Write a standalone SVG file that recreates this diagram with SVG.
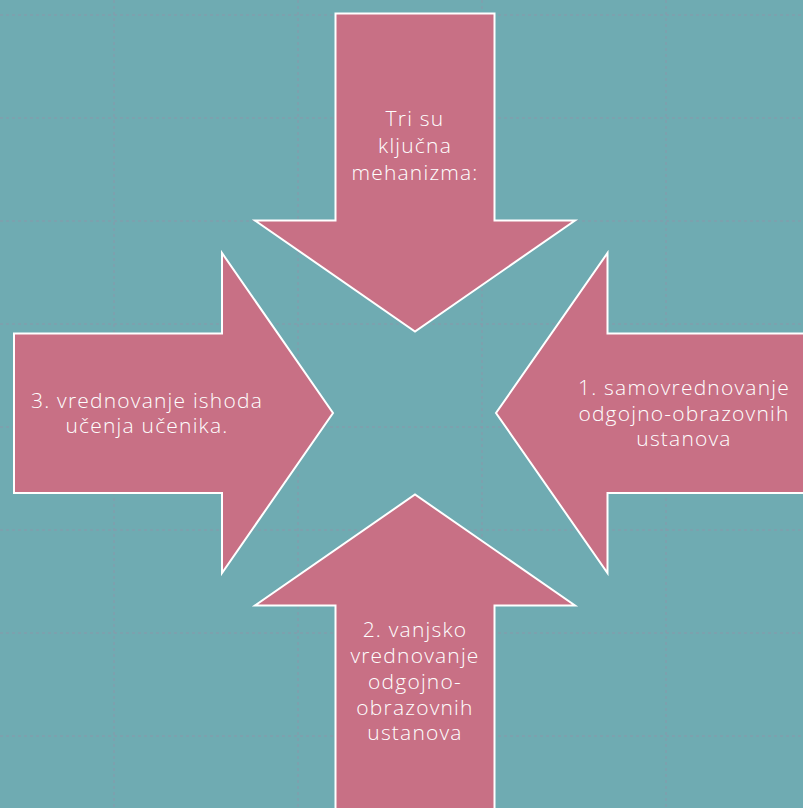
<svg xmlns="http://www.w3.org/2000/svg" width="803" height="808" viewBox="0 0 803 808">
<style>
.bg{fill:#6FABB2}
.grid line{stroke:#8E96AC;stroke-width:1.5;stroke-dasharray:3 3;opacity:0.6}
.arrow{fill:#C87085;stroke:#FFFFFF;stroke-width:2;stroke-linejoin:miter}
.lbl{font-family:"Open Sans",Lato,sans-serif;font-weight:300;font-size:21px;letter-spacing:1.2px;fill:#FFFFFF;text-anchor:middle}
</style>
<rect class="bg" x="0" y="0" width="803" height="808"/>
<g class="grid">
<line x1="114" y1="0" x2="114" y2="808"/>
<line x1="298" y1="0" x2="298" y2="808"/>
<line x1="482" y1="0" x2="482" y2="808"/>
<line x1="666" y1="0" x2="666" y2="808"/>
<line x1="0" y1="15" x2="803" y2="15"/>
<line x1="0" y1="118" x2="803" y2="118"/>
<line x1="0" y1="221" x2="803" y2="221"/>
<line x1="0" y1="324" x2="803" y2="324"/>
<line x1="0" y1="427" x2="803" y2="427"/>
<line x1="0" y1="530" x2="803" y2="530"/>
<line x1="0" y1="633" x2="803" y2="633"/>
<line x1="0" y1="736" x2="803" y2="736"/>
</g>
<g id="top">
<polygon class="arrow" points="335.5,13.5 494.5,13.5 494.5,220.5 575,220.5 415,331.5 255,220.5 335.5,220.5"/>
<text class="lbl"><tspan x="415" y="126">Tri su</tspan><tspan x="415" y="153">ključna</tspan><tspan x="415" y="180">mehanizma:</tspan></text>
</g>
<g id="left">
<polygon class="arrow" points="14,333.5 222,333.5 222,253 333,413 222,573 222,493 14,493"/>
<text class="lbl"><tspan x="147" y="408">3. vrednovanje ishoda</tspan><tspan x="147" y="433">učenja učenika.</tspan></text>
</g>
<g id="right">
<polygon class="arrow" points="810,333.5 607.5,333.5 607.5,253 496,413 607.5,573 607.5,493 810,493"/>
<text class="lbl"><tspan x="684" y="395">1. samovrednovanje</tspan><tspan x="684" y="420.5">odgojno-obrazovnih</tspan><tspan x="684" y="446">ustanova</tspan></text>
</g>
<g id="bottom">
<polygon class="arrow" points="335.5,815 335.5,605.5 255,605.5 415,494.5 575,605.5 494.5,605.5 494.5,815"/>
<text class="lbl"><tspan x="415" y="637">2. vanjsko</tspan><tspan x="415" y="663">vrednovanje</tspan><tspan x="415" y="689">odgojno-</tspan><tspan x="415" y="714.5">obrazovnih</tspan><tspan x="415" y="740">ustanova</tspan></text>
</g>
<g id="connectors"></g>
</svg>
